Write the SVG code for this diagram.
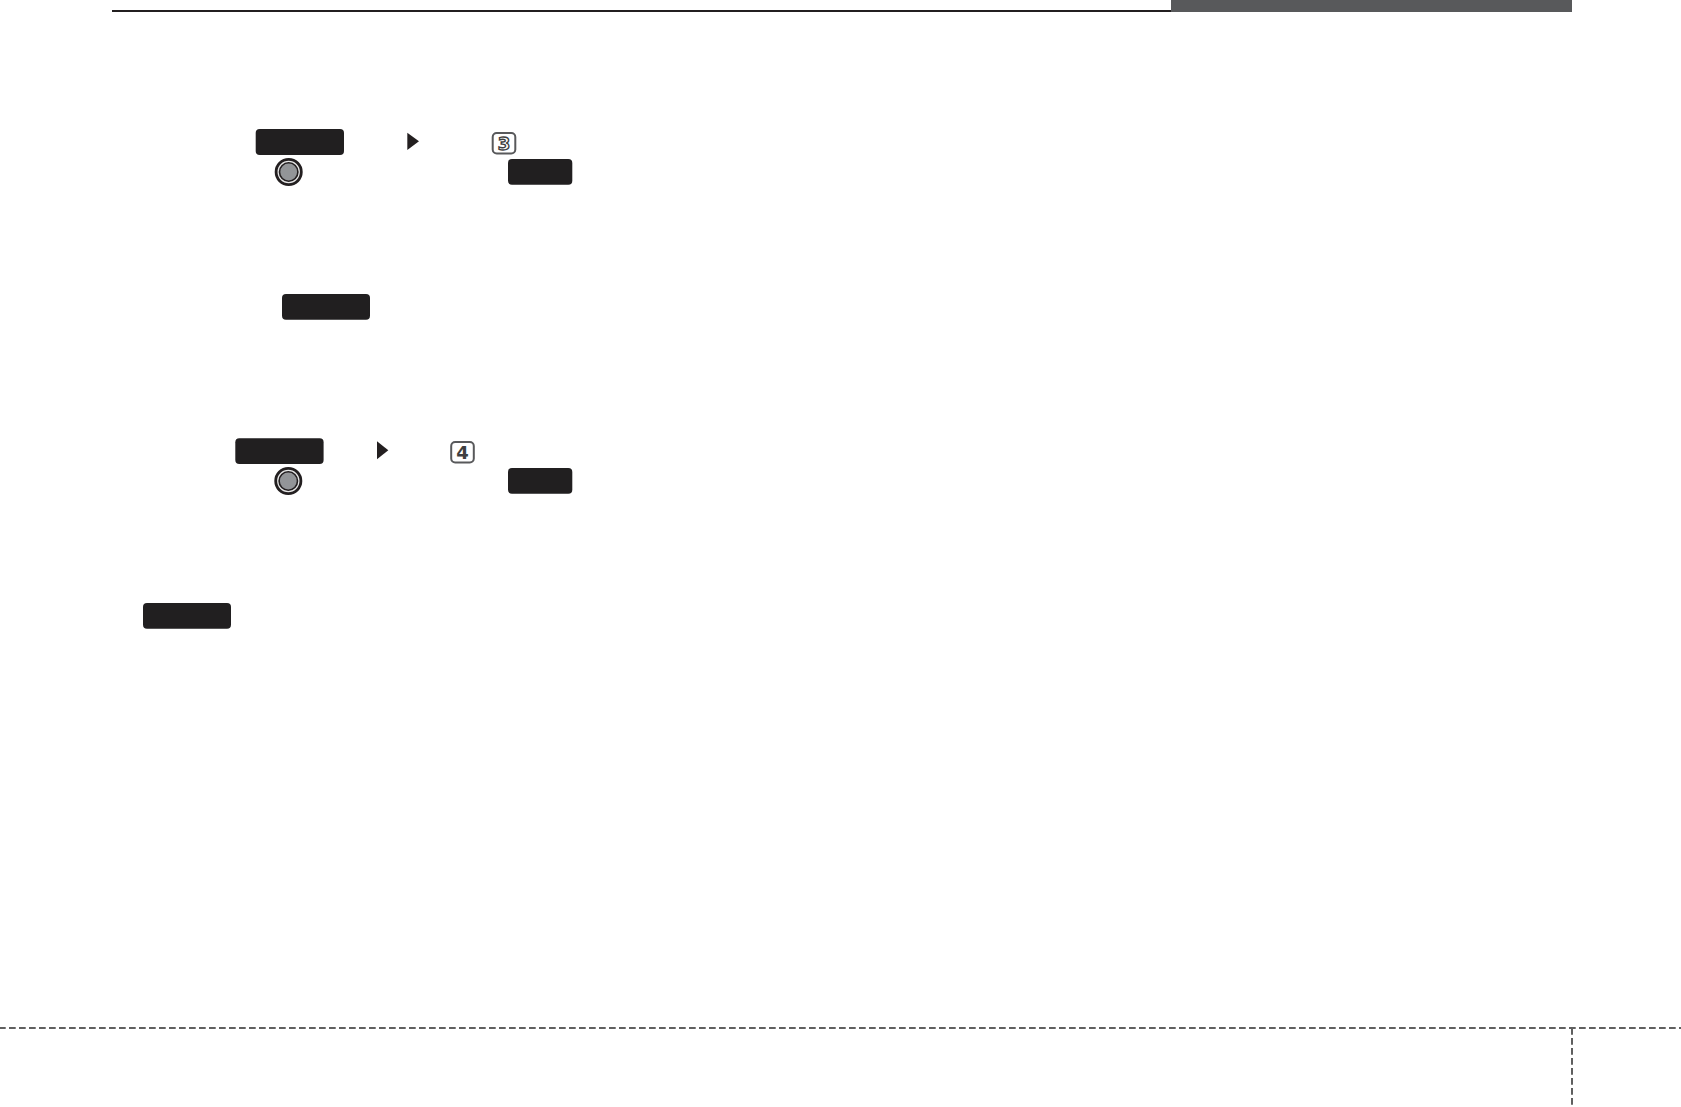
<svg xmlns="http://www.w3.org/2000/svg" width="1681" height="1107" viewBox="0 0 1681 1107">
<style>
.btn{fill:#211f20}
.arrow{fill:#231f20}
.ring{fill:#939598;stroke:#231f20;stroke-width:1.6}
.ringo{fill:#e6e6e6;stroke:#231f20;stroke-width:2.8}
.key{fill:#fff;stroke:#58595b;stroke-width:2}
.dash{fill:none;stroke:#5f5f5f;stroke-width:2;stroke-dasharray:6.7 3.3}
.num{font-family:"DejaVu Sans",sans-serif;font-weight:700;font-size:18px;text-anchor:middle}
</style>
<rect width="1681" height="1107" fill="#fff"/>
<g id="header">
<rect x="112" y="10" width="1059" height="2" fill="#231f20"/>
<rect x="1171" y="0" width="401" height="12" fill="#58595b"/>
</g>
<g id="btn-1"><rect class="btn" x="255.7" y="129" width="88.3" height="26" rx="4"/></g>
<g id="arrow-1"><path class="arrow" d="M407.3 132.7L419 141.3L407.3 150Z"/></g>
<g id="key-3"><rect class="key" x="492.7" y="133" width="22.6" height="20.5" rx="4"/><text class="num" x="504" y="149.8" fill="#fff" stroke="#3f3f41" stroke-width="1.4">3</text></g>
<g id="btn-2"><rect class="btn" x="508" y="159" width="64.3" height="25.7" rx="4"/></g>
<g id="dial-1"><circle class="ringo" cx="288.7" cy="172" r="12.6"/><circle class="ring" cx="288.7" cy="172" r="9.2"/></g>
<g id="btn-3"><rect class="btn" x="282" y="294" width="88" height="25.7" rx="4"/></g>
<g id="btn-4"><rect class="btn" x="235.3" y="438.3" width="88.3" height="25.7" rx="4"/></g>
<g id="arrow-2"><path class="arrow" d="M377 441.3L388.3 450.3L377 459.3Z"/></g>
<g id="key-4"><rect class="key" x="451.2" y="442" width="22.6" height="20.5" rx="4"/><text class="num" x="462.5" y="458.8" fill="#3f3f41">4</text></g>
<g id="btn-5"><rect class="btn" x="508" y="468" width="64.3" height="25.7" rx="4"/></g>
<g id="dial-2"><circle class="ringo" cx="288.3" cy="481" r="12.6"/><circle class="ring" cx="288.3" cy="481" r="9.2"/></g>
<g id="btn-6"><rect class="btn" x="143" y="603" width="88" height="25.7" rx="4"/></g>
<g id="connectors">
<path class="dash" d="M-1 1028H1681"/>
<path class="dash" d="M1572 1028V1107"/>
</g>
</svg>
